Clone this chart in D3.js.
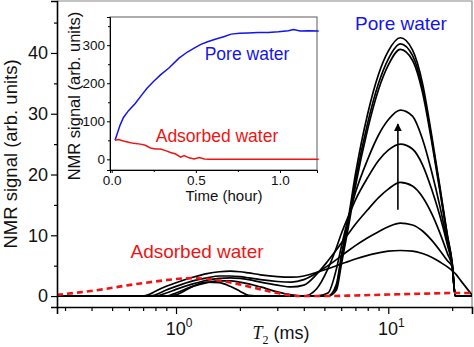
<!doctype html>
<html>
<head>
<meta charset="utf-8">
<script src="https://cdn.jsdelivr.net/npm/d3@7"></script>
<style>
html,body{margin:0;background:#fff;overflow:hidden;}
text{font-family:"Liberation Sans",Arial,sans-serif;fill:#111;}
</style>
</head>
<body>
<script>
// T2 distributions (ms) taken while water is being taken up, earliest (H) to latest (A)
var t2 = [0.275, 0.6, 0.7, 0.75, 0.8, 0.9, 1.0, 1.2, 1.4, 1.6, 1.8, 2.0, 2.2, 2.5, 3.0, 3.5, 4.0, 4.6,
          5.2, 5.7, 6.0, 6.5, 7.0, 8.0, 9.0, 10, 11.4, 13, 14.5, 16, 17.5, 19, 20, 20.7, 22, 24.8];
var curveH = [0, 0, 0, 0.3, 0.8, 1.6, 2.2, 3.1, 3.7, 4.0, 4.1, 4.0, 3.8, 3.5, 3.2, 3.1, 3.3, 3.9,
              4.5, 5.0, 5.3, 5.7, 6.1, 6.7, 7.1, 7.4, 7.5, 7.4, 7.0, 6.4, 5.6, 4.8, 4.2, 3.7, 2.5, 0.2];
var curveG = [0, 0, 0, 0, 0.2, 1.0, 1.6, 2.5, 3.0, 3.3, 3.3, 3.2, 3.0, 2.7, 2.4, 2.3, 2.7, 3.8,
              5.0, 6.0, 6.6, 7.5, 8.3, 9.6, 10.6, 11.4, 12.0, 11.7, 10.7, 9.2, 7.5, 5.8, 4.8, 0, 0, 0];
var curveF = [0, 0, 0, 0, 0, 0.5, 1.1, 2.0, 2.6, 2.9, 3.0, 2.9, 2.7, 2.3, 1.8, 1.5, 1.8, 3.6,
              5.8, 7.6, 8.7, 10.3, 11.8, 14.2, 16.2, 17.6, 18.7, 18.1, 16.3, 13.6, 10.4, 7.0, 4.8, 0, 0, 0];
var curveE = [0, 0, 0, 0, 0, 0, 0.5, 1.6, 2.2, 2.5, 2.5, 2.3, 2.0, 1.5, 0.7, 0.2, 0, 1.2,
              4.5, 8.0, 10.2, 13.2, 15.8, 19.5, 22.3, 24.0, 25.0, 24.2, 21.6, 17.6, 13.2, 8.4, 5.0, 0, 0, 0];
var curveD = [0, 0, 0, 0, 0, 0, 0.2, 1.6, 2.3, 2.2, 1.6, 0.8, 0.1, 0, 0, 0, 0, 0,
              0.5, 4.5, 8.0, 13.0, 17.0, 22.5, 26.5, 29.0, 30.6, 29.6, 25.8, 20.5, 14.8, 8.8, 5.2, 0, 0, 0];
var curveC = [0, 0, 0, 0, 0, 0, 0, 0, 0, 0, 0, 0, 0, 0, 0, 0, 0, 0,
              0, 1.0, 5.0, 11.5, 18.0, 27.5, 34.0, 38.0, 40.6, 38.8, 33.5, 25.5, 17.3, 9.6, 5.2, 0, 0, 0];
var curveB = [0, 0, 0, 0, 0, 0, 0, 0, 0, 0, 0, 0, 0, 0, 0, 0, 0, 0,
              0, 1.5, 6.0, 12.5, 19.0, 28.5, 35.0, 39.0, 41.5, 39.6, 34.2, 26.0, 17.7, 9.8, 5.4, 0, 0, 0];
var curveA = [0, 0, 0, 0, 0, 0, 0, 0, 0, 0, 0, 0, 0, 0, 0, 0, 0, 0,
              0, 2.0, 6.5, 13.0, 20.0, 30.0, 36.5, 40.3, 42.5, 40.5, 35.0, 26.5, 18.0, 10.0, 5.5, 0, 0, 0];
var blackCurves = [curveH, curveG, curveF, curveE, curveD, curveC, curveB, curveA];

// dashed reference distribution
var dashedT2 = [0.275, 0.35, 0.45, 0.6, 0.8, 1.0, 1.2, 1.5, 2.0, 2.5, 3.0, 3.5, 4.0, 5, 7, 10, 15, 20, 24.8];
var dashedSignal = [0.2, 0.6, 1.1, 1.8, 2.4, 2.8, 2.95, 2.7, 1.9, 1.1, 0.5, 0.1, 0, 0, 0.1, 0.25, 0.4, 0.5, 0.5];

// inset: integrated signal vs time
var poreHours = [0.02, 0.05, 0.07, 0.10, 0.14, 0.18, 0.21, 0.25, 0.29, 0.34, 0.40, 0.45, 0.49, 0.53, 0.57,
                 0.62, 0.67, 0.71, 0.76, 0.81, 0.87, 0.93, 0.99, 1.05, 1.08, 1.12, 1.17, 1.23];
var poreSignal = [50, 90, 110, 128, 147, 170, 187, 205, 222, 240, 266, 282, 292, 302, 309,
                  316, 323, 329, 331, 332, 333, 333, 335, 338, 341, 337, 338, 337];
var adsHours = [0.02, 0.04, 0.07, 0.10, 0.13, 0.17, 0.20, 0.23, 0.26, 0.29, 0.32, 0.35, 0.38, 0.41,
                0.43, 0.46, 0.49, 0.52, 0.55, 0.58, 0.7, 1.23];
var adsSignal = [50, 52, 48, 45, 42, 40, 37, 30, 27, 27, 23, 18, 14, 6, 10, 4, 1, 5, 1, 0, 0, 0];

var yMajor = [0, 10, 20, 30, 40], yMinor = [5, 15, 25, 35, 45];
var xMajor = [1, 10], xMinor = [0.3, 0.4, 0.5, 0.6, 0.7, 0.8, 0.9, 2, 3, 4, 5, 6, 7, 8, 9, 20];
var insetYMajor = [0, 100, 200, 300], insetYMinor = [50, 150, 250, 350];
var insetXMajor = [0, 0.5, 1.0], insetXMinor = [0.25, 0.75];

var blue = "#1414ee", red = "#ee1414";

var svg = d3.select("body").append("svg")
    .attr("width", 474).attr("height", 347);

var x = d3.scaleLog().domain([0.275, 24.8]).range([57, 472]);
var y = d3.scaleLinear().domain([-1.8, 48.55]).range([307, 1]);

svg.append("clipPath").attr("id", "plot")
  .append("rect").attr("x", 57).attr("y", 1).attr("width", 415).attr("height", 306);

// frame
svg.append("path").attr("d", "M57,1H472V307")
    .attr("fill", "none").attr("stroke", "#888").attr("stroke-width", 1.2);

var line = d3.line()
    .x(function(d){ return x(d[0]); })
    .y(function(d){ return y(d[1]); })
    .curve(d3.curveMonotoneX);

var plot = svg.append("g").attr("clip-path", "url(#plot)");

plot.selectAll("path.t2")
    .data(blackCurves)
  .enter().append("path")
    .attr("class", "t2")
    .attr("d", function(c){ return line(c.map(function(v, i){ return [t2[i], v]; })); })
    .attr("fill", "none").attr("stroke", "#000").attr("stroke-width", 1.7);

plot.append("path")
    .attr("d", line(dashedT2.map(function(t, i){ return [t, dashedSignal[i]]; })))
    .attr("fill", "none").attr("stroke", red).attr("stroke-width", 2.6)
    .attr("stroke-dasharray", "6,4");

// arrow showing growth of the pore peak
svg.append("defs").append("marker")
    .attr("id", "head").attr("viewBox", "0 0 10 10")
    .attr("refX", 9).attr("refY", 5)
    .attr("markerWidth", 5).attr("markerHeight", 6).attr("orient", "auto")
  .append("path").attr("d", "M0,0L10,5L0,10Z").attr("fill", "#000");
svg.append("line")
    .attr("x1", x(11.1)).attr("x2", x(11.1))
    .attr("y1", y(14.2)).attr("y2", y(28.3))
    .attr("stroke", "#000").attr("stroke-width", 1.6)
    .attr("marker-end", "url(#head)");

// axes
var yAxis = svg.append("g").attr("transform", "translate(57,0)")
    .call(d3.axisLeft(y).tickValues(yMajor).tickSize(6).tickPadding(3));
yAxis.selectAll("text").style("font-size", "18px");
svg.append("g").attr("transform", "translate(57,0)")
    .call(d3.axisLeft(y).tickValues(yMinor).tickSize(3).tickFormat(""))
    .select(".domain").remove();

var xAxis = svg.append("g").attr("transform", "translate(0,307)")
    .call(d3.axisBottom(x).tickValues(xMajor).tickSize(7).tickFormat(""));
svg.append("g").attr("transform", "translate(0,307)")
    .call(d3.axisBottom(x).tickValues(xMinor).tickSize(4).tickFormat(""))
    .select(".domain").remove();
svg.selectAll(".domain").attr("stroke-width", 1.6);
svg.selectAll(".tick line").attr("stroke-width", 1.2);

var xl = svg.selectAll("text.xl").data(xMajor).enter().append("text")
    .attr("class", "xl")
    .attr("x", function(d){ return x(d) + 3; })
    .attr("y", 335)
    .attr("text-anchor", "middle")
    .style("font-size", "18px");
xl.append("tspan").text("10");
xl.append("tspan").attr("dy", -8).style("font-size", "12px")
    .text(function(d){ return Math.round(Math.log10(d)); });

var xt = svg.append("text").attr("x", 281).attr("y", 339)
    .attr("text-anchor", "middle").style("font-size", "18px");
xt.append("tspan").text("T")
    .style("font-family", "'Liberation Serif',serif").style("font-style", "italic");
xt.append("tspan").attr("dy", 5).style("font-size", "12px")
    .style("font-family", "'Liberation Serif',serif").text("2");
xt.append("tspan").attr("dy", -5).text(" (ms)");

svg.append("text")
    .attr("transform", "translate(17,154) rotate(-90)")
    .attr("text-anchor", "middle").style("font-size", "18.5px")
    .text("NMR signal (arb. units)");

svg.append("text").attr("x", 401).attr("y", 30)
    .attr("text-anchor", "middle").style("font-size", "19px").style("fill", blue)
    .text("Pore water");
svg.append("text").attr("x", 197).attr("y", 258)
    .attr("text-anchor", "middle").style("font-size", "19px").style("fill", red)
    .text("Adsorbed water");

// inset
var xi = d3.scaleLinear().domain([-0.01, 1.22]).range([110, 317]);
var yi = d3.scaleLinear().domain([-28, 374]).range([170, 17]);

svg.append("rect").attr("x", 110).attr("y", 17).attr("width", 207).attr("height", 153)
    .attr("fill", "#fff").attr("stroke", "#777").attr("stroke-width", 1.2);

var iline = d3.line()
    .x(function(d){ return xi(d[0]); })
    .y(function(d){ return yi(d[1]); });

svg.append("path")
    .attr("d", iline(poreHours.map(function(h, i){ return [h, poreSignal[i]]; })))
    .attr("fill", "none").attr("stroke", blue).attr("stroke-width", 1.5);
svg.append("path")
    .attr("d", iline(adsHours.map(function(h, i){ return [h, adsSignal[i]]; })))
    .attr("fill", "none").attr("stroke", red).attr("stroke-width", 1.5);

var iy = svg.append("g").attr("transform", "translate(110,0)")
    .call(d3.axisLeft(yi).tickValues(insetYMajor).tickSize(3).tickPadding(2));
iy.selectAll("text").style("font-size", "13.5px");
svg.append("g").attr("transform", "translate(110,0)")
    .call(d3.axisLeft(yi).tickValues(insetYMinor).tickSize(2).tickFormat(""))
    .select(".domain").remove();
var ix = svg.append("g").attr("transform", "translate(0,170)")
    .call(d3.axisBottom(xi).tickValues(insetXMajor).tickSize(3).tickPadding(2)
          .tickFormat(d3.format(".1f")));
ix.selectAll("text").style("font-size", "13.5px");
svg.append("g").attr("transform", "translate(0,170)")
    .call(d3.axisBottom(xi).tickValues(insetXMinor).tickSize(2).tickFormat(""))
    .select(".domain").remove();

svg.append("text").attr("x", 224).attr("y", 201)
    .attr("text-anchor", "middle").style("font-size", "15px")
    .text("Time (hour)");
svg.append("text")
    .attr("transform", "translate(80,96) rotate(-90)")
    .attr("text-anchor", "middle").style("font-size", "16.5px")
    .text("NMR signal (arb. units)");
svg.append("text").attr("x", 247).attr("y", 60)
    .attr("text-anchor", "middle").style("font-size", "17.5px").style("fill", blue)
    .text("Pore water");
svg.append("text").attr("x", 217).attr("y", 142)
    .attr("text-anchor", "middle").style("font-size", "17.5px").style("fill", red)
    .text("Adsorbed water");
</script>
</body>
</html>
